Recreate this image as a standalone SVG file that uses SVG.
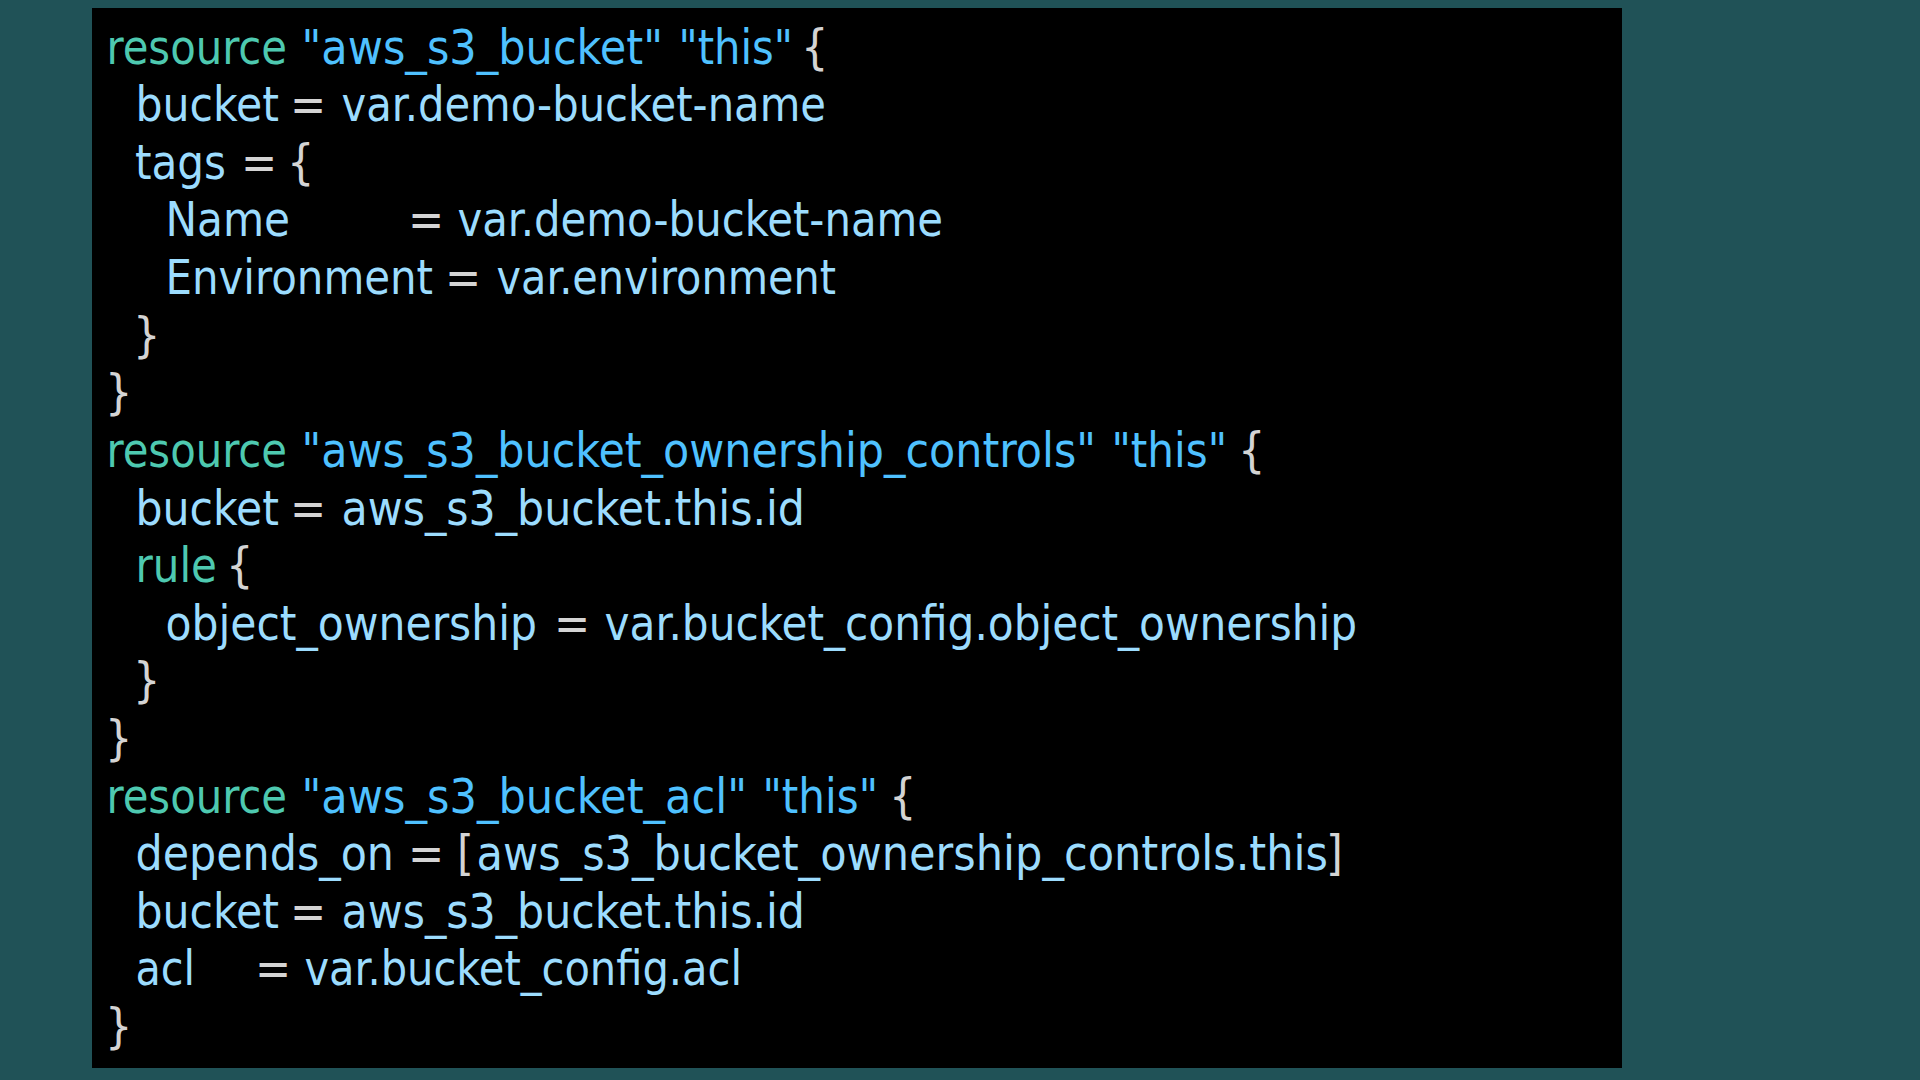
<svg xmlns="http://www.w3.org/2000/svg" width="1920" height="1080" viewBox="0 0 1920 1080">
<style>
text{font-family:"DejaVu Sans Condensed","DejaVu Sans",sans-serif;font-size:48px;font-stretch:condensed}
.k{fill:#4ec9b0}
.s{fill:#4fc1ff}
.v{fill:#9cdcfe}
.p{fill:#d4d4d4}
</style>
<rect x="0" y="0" width="1920" height="1080" fill="#205257"/>
<g id="code-panel">
<rect x="92" y="8" width="1530" height="1060" fill="#000000"/>
</g>
<g id="block-bucket">
<text x="106.5" y="63.5" class="k" textLength="180.5" lengthAdjust="spacingAndGlyphs">resource</text>
<text x="301.5" y="63.5" class="s" textLength="361.5" lengthAdjust="spacingAndGlyphs">"aws_s3_bucket"</text>
<text x="678.5" y="63.5" class="s" textLength="114.5" lengthAdjust="spacingAndGlyphs">"this"</text>
<text x="801" y="63.5" class="p">{</text>
<text x="135.5" y="121.1" class="v" textLength="143.5" lengthAdjust="spacingAndGlyphs">bucket</text>
<text x="290" y="121.1" class="p">=</text>
<text x="341.5" y="121.1" class="v" textLength="484.5" lengthAdjust="spacingAndGlyphs">var.demo-bucket-name</text>
<text x="135" y="178.7" class="v" textLength="91" lengthAdjust="spacingAndGlyphs">tags</text>
<text x="241" y="178.7" class="p">=</text>
<text x="287" y="178.7" class="p">{</text>
<text x="165.5" y="236.4" class="v" textLength="124.5" lengthAdjust="spacingAndGlyphs">Name</text>
<text x="408" y="236.4" class="p">=</text>
<text x="457.5" y="236.4" class="v" textLength="485.5" lengthAdjust="spacingAndGlyphs">var.demo-bucket-name</text>
<text x="165.5" y="294" class="v" textLength="267.5" lengthAdjust="spacingAndGlyphs">Environment</text>
<text x="445" y="294" class="p">=</text>
<text x="496.5" y="294" class="v" textLength="339.5" lengthAdjust="spacingAndGlyphs">var.environment</text>
<text x="133" y="351.6" class="p">}</text>
<text x="105" y="409.2" class="p">}</text>
</g>
<g id="block-ownership">
<text x="106.5" y="466.9" class="k" textLength="180.5" lengthAdjust="spacingAndGlyphs">resource</text>
<text x="301.5" y="466.9" class="s" textLength="794.5" lengthAdjust="spacingAndGlyphs">"aws_s3_bucket_ownership_controls"</text>
<text x="1111.5" y="466.9" class="s" textLength="115.5" lengthAdjust="spacingAndGlyphs">"this"</text>
<text x="1238" y="466.9" class="p">{</text>
<text x="135.5" y="524.5" class="v" textLength="143.5" lengthAdjust="spacingAndGlyphs">bucket</text>
<text x="290" y="524.5" class="p">=</text>
<text x="341.5" y="524.5" class="v" textLength="463.5" lengthAdjust="spacingAndGlyphs">aws_s3_bucket.this.id</text>
<text x="135.5" y="582.1" class="k" textLength="81.5" lengthAdjust="spacingAndGlyphs">rule</text>
<text x="226" y="582.1" class="p">{</text>
<text x="165.5" y="639.7" class="v" textLength="371.5" lengthAdjust="spacingAndGlyphs">object_ownership</text>
<text x="554" y="639.7" class="p">=</text>
<text x="604.5" y="639.7" class="v" textLength="752.5" lengthAdjust="spacingAndGlyphs">var.bucket_config.object_ownership</text>
<text x="133" y="697.4" class="p">}</text>
<text x="105" y="755" class="p">}</text>
</g>
<g id="block-acl">
<text x="106.5" y="812.6" class="k" textLength="180.5" lengthAdjust="spacingAndGlyphs">resource</text>
<text x="301.5" y="812.6" class="s" textLength="445.5" lengthAdjust="spacingAndGlyphs">"aws_s3_bucket_acl"</text>
<text x="762.5" y="812.6" class="s" textLength="115.5" lengthAdjust="spacingAndGlyphs">"this"</text>
<text x="889" y="812.6" class="p">{</text>
<text x="135.5" y="870.2" class="v" textLength="258.5" lengthAdjust="spacingAndGlyphs">depends_on</text>
<text x="408" y="870.2" class="p">=</text>
<text x="457" y="870.2" class="p">[</text>
<text x="476.5" y="870.2" class="v" textLength="851.5" lengthAdjust="spacingAndGlyphs">aws_s3_bucket_ownership_controls.this</text>
<text x="1326" y="870.2" class="p">]</text>
<text x="135.5" y="927.8" class="v" textLength="143.5" lengthAdjust="spacingAndGlyphs">bucket</text>
<text x="290" y="927.8" class="p">=</text>
<text x="341.5" y="927.8" class="v" textLength="463.5" lengthAdjust="spacingAndGlyphs">aws_s3_bucket.this.id</text>
<text x="135.5" y="985.4" class="v" textLength="59.5" lengthAdjust="spacingAndGlyphs">acl</text>
<text x="255" y="985.4" class="p">=</text>
<text x="304.5" y="985.4" class="v" textLength="437.5" lengthAdjust="spacingAndGlyphs">var.bucket_config.acl</text>
<text x="105" y="1043" class="p">}</text>
</g>
</svg>
